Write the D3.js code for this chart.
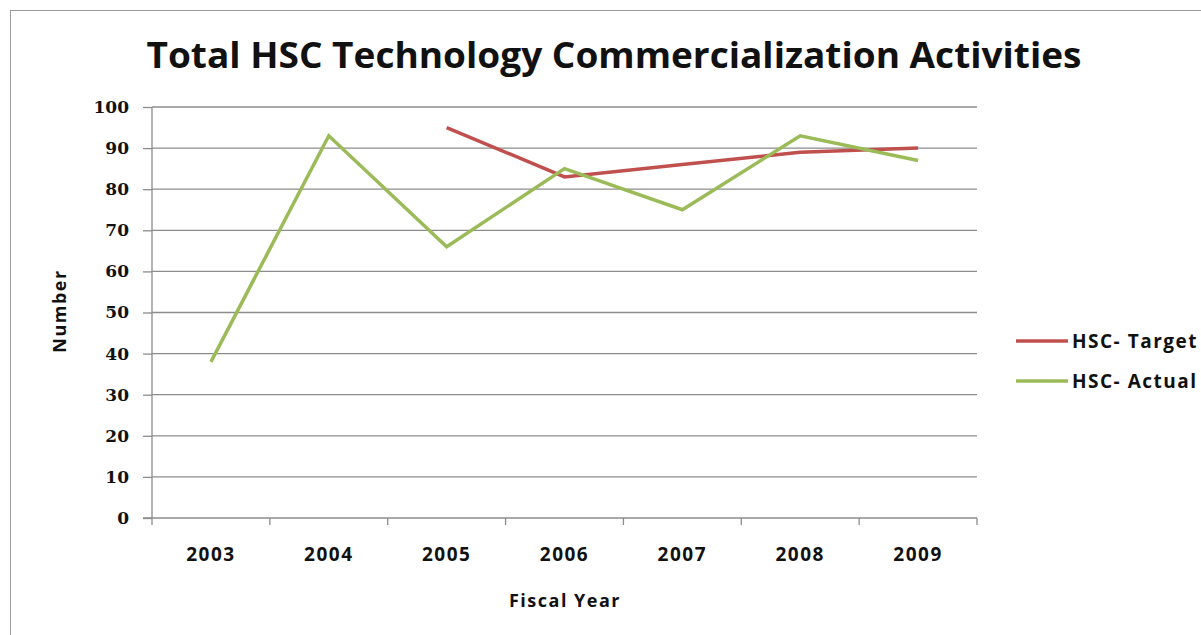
<!DOCTYPE html>
<html>
<head>
<meta charset="utf-8">
<script src="https://cdn.jsdelivr.net/npm/d3@7"></script>
<style>
  body { margin: 0; background: #fff; }
  .y-axis text { font-family: 'DejaVu Serif', serif; font-weight: bold; font-size: 17px; fill: #111; }
  .x-axis text { font-family: 'Open Sans', sans-serif; font-weight: bold; font-size: 19px; letter-spacing: 1.5px; fill: #111; }
</style>
</head>
<body>
<div id="chart"></div>
<script>
const years = ['2003', '2004', '2005', '2006', '2007', '2008', '2009'];
const targetValues = [null, null, 95, 83, 86, 89, 90];
const actualValues = [38, 93, 66, 85, 75, 93, 87];
const yTicks = [0, 10, 20, 30, 40, 50, 60, 70, 80, 90, 100];
const seriesNames = ['HSC- Target', 'HSC- Actual'];
const seriesColors = ['#C0504D', '#9BBB59'];

const width = 1201;
const height = 635;
const plot = { left: 152, right: 977, top: 107, bottom: 518 };

const svg = d3.select('#chart')
  .append('svg')
  .attr('width', width)
  .attr('height', height);

// outer frame
svg.append('rect')
  .attr('x', 10.5)
  .attr('y', 10.5)
  .attr('width', 1200)
  .attr('height', 640)
  .attr('fill', 'none')
  .attr('stroke', '#9a9a9a')
  .attr('stroke-width', 1);

const x = d3.scaleBand()
  .domain(years)
  .range([plot.left, plot.right]);

const y = d3.scaleLinear()
  .domain([0, 100])
  .range([plot.bottom, plot.top]);

// gridlines
svg.append('g')
  .selectAll('line')
  .data(yTicks.slice(1))
  .enter()
  .append('line')
  .attr('x1', plot.left)
  .attr('x2', plot.right)
  .attr('y1', d => y(d))
  .attr('y2', d => y(d))
  .attr('stroke', '#8c8c8c')
  .attr('stroke-width', 1.3);

// y axis
const yAxis = d3.axisLeft(y)
  .tickValues(yTicks)
  .tickSize(9)
  .tickPadding(14);

const yG = svg.append('g')
  .attr('class', 'y-axis')
  .attr('transform', `translate(${plot.left}, 0)`)
  .call(yAxis);
yG.selectAll('line, path').attr('stroke', '#8c8c8c').attr('stroke-width', 1.3);
yG.select('.domain').attr('d', `M0,${plot.top}V${plot.bottom}`);

// x axis, ticks at band boundaries
const xG = svg.append('g')
  .attr('class', 'x-axis')
  .attr('transform', `translate(0, ${plot.bottom})`);

xG.append('line')
  .attr('x1', plot.left - 9)
  .attr('x2', plot.right)
  .attr('stroke', '#8c8c8c')
  .attr('stroke-width', 1.3);

xG.selectAll('.xtick')
  .data(years.concat(['end']))
  .enter()
  .append('line')
  .attr('class', 'xtick')
  .attr('x1', (d, i) => i < years.length ? x(d) : x.range()[1])
  .attr('x2', (d, i) => i < years.length ? x(d) : x.range()[1])
  .attr('y1', 0)
  .attr('y2', 7)
  .attr('stroke', '#8c8c8c')
  .attr('stroke-width', 1.3);

xG.selectAll('.xlabel')
  .data(years)
  .enter()
  .append('text')
  .attr('x', d => x(d) + x.bandwidth() / 2)
  .attr('y', 43)
  .attr('text-anchor', 'middle')
  .text(d => d);

// series lines
const line = d3.line()
  .defined(d => d.value !== null)
  .x(d => x(d.year) + x.bandwidth() / 2)
  .y(d => y(d.value));

const series = [targetValues, actualValues].map((vals, i) => ({
  name: seriesNames[i],
  color: seriesColors[i],
  points: years.map((yr, j) => ({ year: yr, value: vals[j] }))
}));

svg.append('g')
  .selectAll('path')
  .data(series)
  .enter()
  .append('path')
  .attr('d', d => line(d.points))
  .attr('fill', 'none')
  .attr('stroke', d => d.color)
  .attr('stroke-width', 3.5)
  .attr('stroke-linejoin', 'miter');

// title
svg.append('text')
  .attr('x', 614)
  .attr('y', 68)
  .attr('text-anchor', 'middle')
  .attr('textLength', 935)
  .attr('lengthAdjust', 'spacingAndGlyphs')
  .style('font-family', "'Open Sans', sans-serif")
  .style('font-weight', 'bold')
  .style('font-size', '35px')
  .attr('fill', '#111')
  .text('Total HSC Technology Commercialization Activities');

// axis titles
svg.append('text')
  .attr('transform', 'translate(66, 311) rotate(-90)')
  .attr('text-anchor', 'middle')
  .style('font-family', "'Open Sans', sans-serif")
  .style('font-weight', 'bold')
  .style('font-size', '18px')
  .style('letter-spacing', '1.5px')
  .attr('fill', '#111')
  .text('Number');

svg.append('text')
  .attr('x', 565)
  .attr('y', 607)
  .attr('text-anchor', 'middle')
  .style('font-family', "'Open Sans', sans-serif")
  .style('font-weight', 'bold')
  .style('font-size', '18px')
  .style('letter-spacing', '1.5px')
  .attr('fill', '#111')
  .text('Fiscal Year');

// legend
const legend = svg.append('g')
  .selectAll('g')
  .data(series)
  .enter()
  .append('g')
  .attr('transform', (d, i) => `translate(1016, ${341 + i * 40})`);

legend.append('line')
  .attr('x1', 0)
  .attr('x2', 52)
  .attr('stroke', d => d.color)
  .attr('stroke-width', 3.5);

legend.append('text')
  .attr('x', 56)
  .attr('y', 7)
  .style('font-family', "'Open Sans', sans-serif")
  .style('font-weight', 'bold')
  .style('font-size', '19px')
  .style('letter-spacing', '1.5px')
  .attr('fill', '#111')
  .text(d => d.name);
</script>
</body>
</html>
